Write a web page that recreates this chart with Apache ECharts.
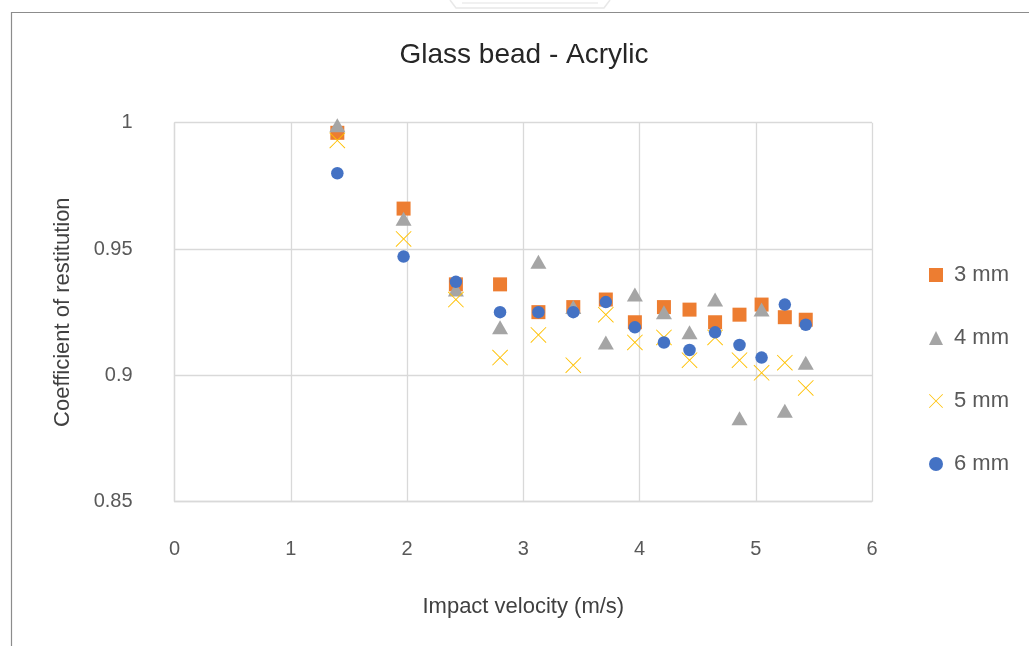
<!DOCTYPE html>
<html>
<head>
<meta charset="utf-8">
<title>Glass bead - Acrylic</title>
<script src="https://cdn.jsdelivr.net/npm/echarts@6/dist/echarts.min.js"></script>
<style>
  html, body { margin: 0; padding: 0; background: #ffffff; }
  #chart { width: 1029px; height: 646px; }
</style>
</head>
<body>
<div id="chart"></div>
<script>
// Impact velocity (m/s) of each test run
const velocity = [1.40, 1.97, 2.42, 2.80, 3.13, 3.43, 3.71, 3.96, 4.21, 4.43, 4.65, 4.86, 5.05, 5.25, 5.43];

// Coefficient of restitution per bead diameter
const cor3mm = [0.996, 0.966, 0.936, 0.936, 0.925, 0.927, 0.930, 0.921, 0.927, 0.926, 0.921, 0.924, 0.928, 0.923, 0.922];
const cor4mm = [0.999, 0.962, 0.934, 0.919, 0.945, 0.927, 0.913, 0.932, 0.925, 0.917, 0.930, 0.883, 0.926, 0.886, 0.905];
const cor5mm = [0.993, 0.954, 0.930, 0.907, 0.916, 0.904, 0.924, 0.913, 0.915, 0.906, 0.915, 0.906, 0.901, 0.905, 0.895];
const cor6mm = [0.980, 0.947, 0.937, 0.925, 0.925, 0.925, 0.929, 0.919, 0.913, 0.910, 0.917, 0.912, 0.907, 0.928, 0.920];

const seriesNames = ['3 mm', '4 mm', '5 mm', '6 mm'];

const FONT = '"Liberation Sans", Arial, sans-serif';

// thin "x" cross drawn as a filled outline
const crossPath = 'path://M4,0L50,46L96,0L100,4L54,50L100,96L96,100L50,54L4,100L0,96L46,50L0,4Z';

function pairs(ys) {
  return velocity.map((v, i) => [v, ys[i]]);
}

const chart = echarts.init(document.getElementById('chart'), null, { renderer: 'canvas' });

chart.setOption({
  backgroundColor: '#ffffff',
  animation: false,
  textStyle: { fontFamily: FONT },
  grid: { left: 174.6, right: 157, top: 122.7, bottom: 144.4, containLabel: false },
  xAxis: {
    type: 'value',
    min: 0, max: 6, interval: 1,
    name: 'Impact velocity (m/s)',
    nameLocation: 'middle',
    nameGap: 94,
    nameTextStyle: { fontSize: 22, color: '#404040', fontFamily: FONT },
    axisLine: { show: true, lineStyle: { color: '#d9d9d9', width: 1.3 } },
    axisTick: { show: false },
    axisLabel: { fontSize: 20, color: '#595959', margin: 38, fontFamily: FONT },
    splitLine: { show: true, lineStyle: { color: '#d9d9d9', width: 1.3 } }
  },
  yAxis: {
    type: 'value',
    min: 0.85, max: 1, interval: 0.05,
    name: 'Coefficient of restitution',
    nameLocation: 'middle',
    nameGap: 101,
    nameTextStyle: { fontSize: 22, color: '#404040', fontFamily: FONT },
    axisLine: { show: true, lineStyle: { color: '#d9d9d9', width: 1.3 } },
    axisTick: { show: false },
    axisLabel: { fontSize: 20, color: '#595959', margin: 42, padding: [0, 0, 6, 0], fontFamily: FONT },
    splitLine: { show: true, lineStyle: { color: '#d9d9d9', width: 1.3 } }
  },
  legend: {
    orient: 'vertical',
    left: 924,
    top: 259,
    itemWidth: 14,
    itemHeight: 14,
    itemGap: 41,
    textStyle: { fontSize: 22, color: '#595959', fontFamily: FONT, padding: [0, 0, 0, 6] },
    data: seriesNames
  },
  series: [
    {
      name: seriesNames[0], type: 'scatter', symbol: 'rect', symbolSize: 14,
      itemStyle: { color: '#ED7D31', opacity: 1 },
      data: pairs(cor3mm)
    },
    {
      name: seriesNames[1], type: 'scatter', symbol: 'triangle', symbolSize: [16, 14],
      itemStyle: { color: '#A5A5A5', opacity: 1 },
      data: pairs(cor4mm)
    },
    {
      name: seriesNames[2], type: 'scatter', symbol: crossPath, symbolSize: 16,
      itemStyle: { color: '#FFC000', opacity: 1 },
      data: pairs(cor5mm)
    },
    {
      name: seriesNames[3], type: 'scatter', symbol: 'circle', symbolSize: 12.5,
      itemStyle: { color: '#4472C4', opacity: 1 },
      data: pairs(cor6mm)
    }
  ],
  graphic: [
    {
      type: 'text', x: 524, y: 55,
      style: {
        text: 'Glass bead - Acrylic', fontSize: 28, fill: '#262626', fontFamily: FONT,
        align: 'center', verticalAlign: 'middle'
      }
    },
    // page frame around the chart
    {
      type: 'polyline',
      shape: { points: [[1029, 12.5], [11.5, 12.5], [11.5, 646]] },
      style: { stroke: '#8c8c8c', lineWidth: 1.2, fill: null }
    },
    // faint emblem band above the frame
    {
      type: 'polyline',
      shape: { points: [[450, 0], [456, 8], [604, 8], [610, 0]] },
      style: { stroke: '#e8e8e8', lineWidth: 1.5, fill: null }
    },
    {
      type: 'line',
      shape: { x1: 462, y1: 3, x2: 598, y2: 3 },
      style: { stroke: '#ececec', lineWidth: 1.5 }
    }
  ]
});
</script>
</body>
</html>
